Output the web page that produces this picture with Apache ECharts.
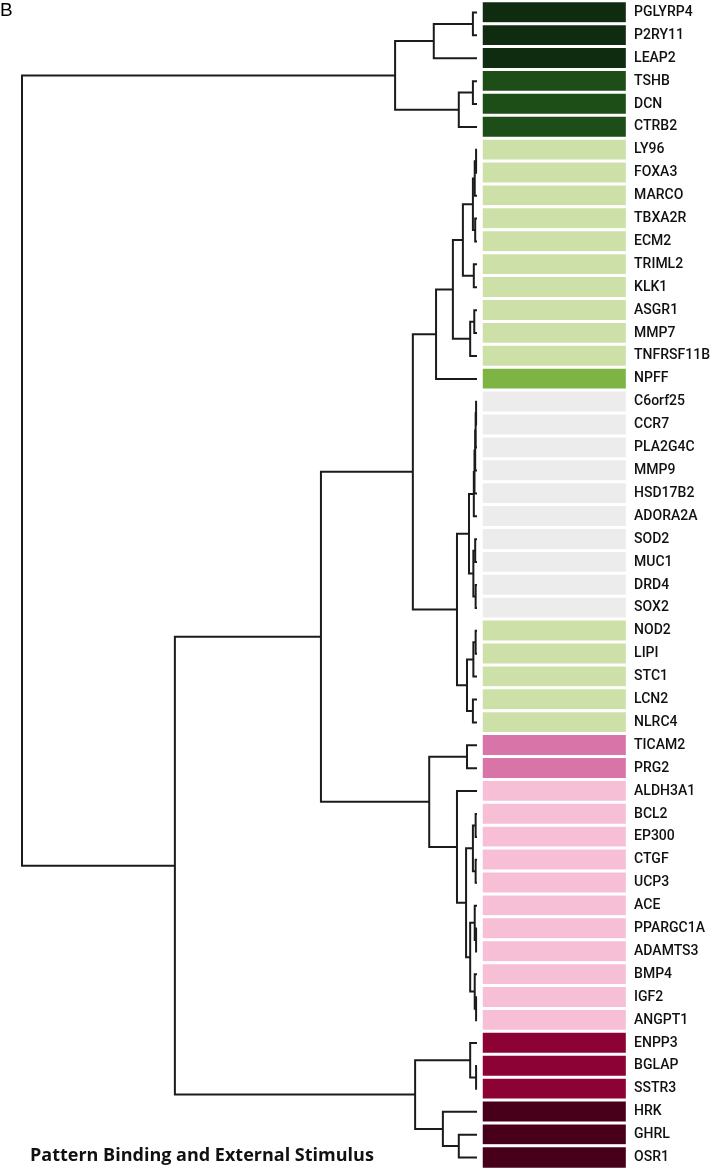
<!DOCTYPE html>
<html><head><meta charset="utf-8">
<script src="https://cdn.jsdelivr.net/npm/echarts@6/dist/echarts.min.js"></script>
<style>html,body{margin:0;padding:0;background:#fff}#c{width:713px;height:1176px}</style>
</head><body><div id="c"></div><script>
// Genes, top to bottom
const genes = ['PGLYRP4','P2RY11','LEAP2','TSHB','DCN','CTRB2','LY96','FOXA3','MARCO','TBXA2R',
  'ECM2','TRIML2','KLK1','ASGR1','MMP7','TNFRSF11B','NPFF','C6orf25','CCR7','PLA2G4C',
  'MMP9','HSD17B2','ADORA2A','SOD2','MUC1','DRD4','SOX2','NOD2','LIPI','STC1',
  'LCN2','NLRC4','TICAM2','PRG2','ALDH3A1','BCL2','EP300','CTGF','UCP3','ACE',
  'PPARGC1A','ADAMTS3','BMP4','IGF2','ANGPT1','ENPP3','BGLAP','SSTR3','HRK','GHRL','OSR1'];
// Expression level per gene (negative = green, positive = magenta)
const levels = [-4,-4,-4,-3,-3,-3,-1,-1,-1,-1,
  -1,-1,-1,-1,-1,-1,-2,0,0,0,
  0,0,0,0,0,0,0,-1,-1,-1,
  -1,-1,2,2,1,1,1,1,1,1,
  1,1,1,1,1,3,3,3,4,4,4];
const levelValues = [-4,-3,-2,-1,0,1,2,3,4];
const levelColors = ['#0f2b10','#1e4e17','#7db443','#cde0a7','#ececec','#f7bfd5','#d874a7','#8d0234','#48001a'];
// Dendrogram: [left, right, merge distance]
const topA = [['PGLYRP4','P2RY11',0.9],'LEAP2',9.5];
const topB = [['TSHB','DCN',0.9],'CTRB2',4.0];
const topCluster = [topA, topB, 18.0];
const g1 = [[['LY96','FOXA3',0.2],'MARCO',0.5],['TBXA2R','ECM2',0.4],0.9];
const g2 = ['TRIML2','KLK1',0.7];
const g4 = [['ASGR1','MMP7',0.6],'TNFRSF11B',1.5];
const greenCluster = [[[g1, g2, 3.1], g4, 5.3], 'NPFF', 9.0];
const gr1 = [[[[['C6orf25','CCR7',0.2],'PLA2G4C',0.3],'MMP9',0.4],'HSD17B2',0.55],'ADORA2A',0.7];
const gr2 = [['SOD2','MUC1',0.4],['DRD4','SOX2',0.3],0.8];
const gr4 = [[['NOD2','LIPI',0.3],'STC1',0.8],['LCN2','NLRC4',0.9],2.2];
const greyCluster = [[gr1, gr2, 1.76], gr4, 4.4];
const p1 = ['TICAM2','PRG2',2.2];
const p2 = [['BCL2','EP300',0.3],['CTGF','UCP3',0.3],0.9];
const p3 = [['ACE',['PPARGC1A','ADAMTS3',0.2],0.5],['BMP4',['IGF2','ANGPT1',0.2],0.5],1.5];
const pinkCluster = [p1, ['ALDH3A1', [p2, p3, 2.4], 4.4], 10.5];
const bottomCluster = [['ENPP3',['BGLAP','SSTR3',0.2],1.5],['HRK',['GHRL','OSR1',4.0],7.5],13.6];
const upperCluster = [[greenCluster, greyCluster, 14.1], pinkCluster, 34.3];
const tree = [topCluster, [upperCluster, bottomCluster, 66.4], 100];

const segments = [];
function layout(node){
  if (typeof node === 'string') return {pos: genes.indexOf(node), h: 0};
  const a = layout(node[0]), b = layout(node[1]), h = node[2];
  segments.push([[a.h, a.pos],[h, a.pos],[h, b.pos],[b.h, b.pos]]);
  return {pos: (a.pos + b.pos) / 2, h: h};
}
layout(tree);

const chart = echarts.init(document.getElementById('c'), null, {renderer:'canvas'});
chart.setOption({
  animation: false,
  backgroundColor: '#ffffff',
  title: [
    {text: 'B', left: 0, top: 1, padding: 0,
     textStyle: {fontFamily: 'Liberation Sans', fontSize: 19, fontWeight: 'normal', color: '#000'}},
    {text: 'Pattern Binding and External Stimulus', left: 30, top: 1147, padding: 0,
     textStyle: {fontFamily: 'Open Sans', fontSize: 18, fontWeight: 'bold', color: '#111'}}
  ],
  grid: [
    {left: 22, width: 455, top: 1, height: 1168},
    {left: 481.5, width: 148, top: 1, height: 1168}
  ],
  xAxis: [
    {gridIndex: 0, type: 'value', min: 0, max: 100, inverse: true, show: false},
    {gridIndex: 1, type: 'category', data: ['x'], show: false}
  ],
  yAxis: [
    {gridIndex: 0, type: 'value', min: -0.5, max: genes.length - 0.5, inverse: true, show: false},
    {gridIndex: 1, type: 'category', data: genes, inverse: true, position: 'right',
     axisLine: {show: false}, axisTick: {show: false}, splitLine: {show: false},
     axisLabel: {margin: 7, fontFamily: 'Roboto', fontSize: 14, fontWeight: 500, color: '#111'}}
  ],
  visualMap: {
    type: 'piecewise', show: false, seriesIndex: 1, dimension: 2,
    pieces: levelValues.map((v, i) => ({value: v, color: levelColors[i]}))
  },
  series: [
    {type: 'lines', coordinateSystem: 'cartesian2d', xAxisIndex: 0, yAxisIndex: 0,
     polyline: true, silent: true,
     lineStyle: {color: '#1b1b1b', width: 2, opacity: 1, join: 'miter', cap: 'butt'},
     data: segments.map(c => ({coords: c}))},
    {type: 'heatmap', xAxisIndex: 1, yAxisIndex: 1, silent: true,
     itemStyle: {borderColor: '#ffffff', borderWidth: 3},
     data: genes.map((g, i) => [0, i, levels[i]])}
  ]
});
</script></body></html>
